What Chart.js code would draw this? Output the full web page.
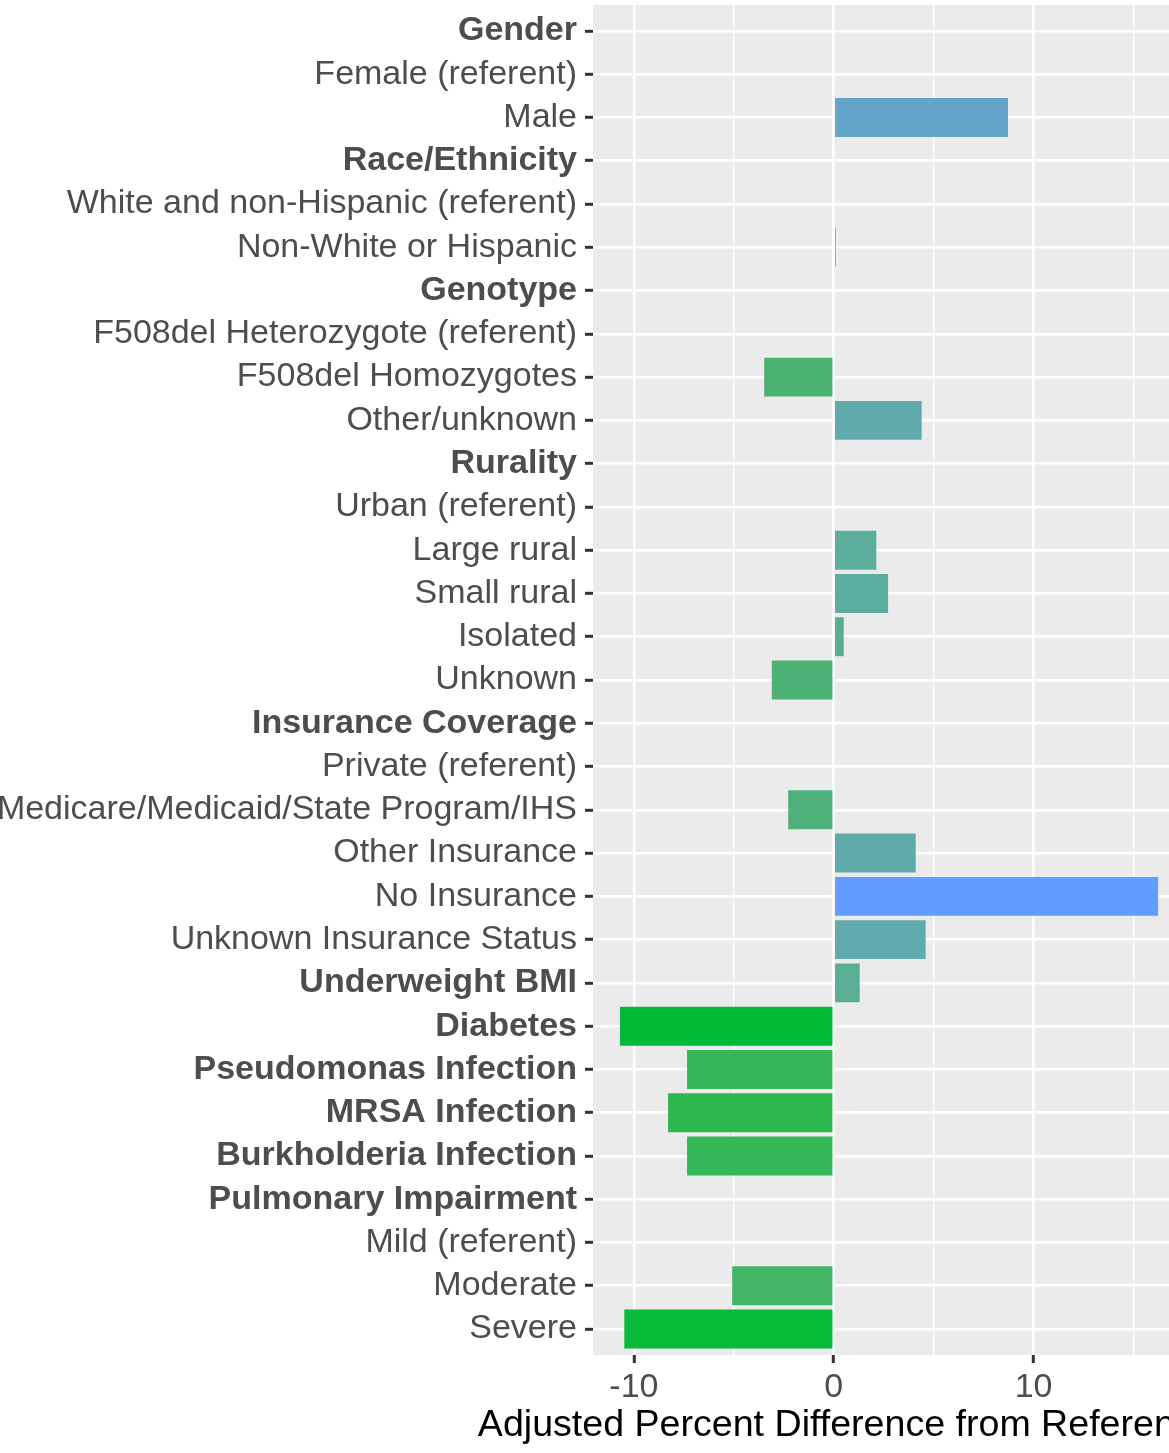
<!DOCTYPE html>
<html>
<head>
<meta charset="utf-8">
<script src="https://cdn.jsdelivr.net/npm/chart.js@4.4.1/dist/chart.umd.min.js"></script>
<style>
  html, body { margin: 0; padding: 0; background: #fff; overflow: hidden; }
  /* the figure is cropped on both sides, so the canvas is wider than the page */
  #wrap { position: absolute; left: -40px; top: 0; width: 1240px; height: 1453px; }
</style>
</head>
<body>
<div id="wrap"><canvas id="chart"></canvas></div>
<script>
// rows, top to bottom
const categories = [
  'Gender', 'Female (referent)', 'Male',
  'Race/Ethnicity', 'White and non-Hispanic (referent)', 'Non-White or Hispanic',
  'Genotype', 'F508del Heterozygote (referent)', 'F508del Homozygotes', 'Other/unknown',
  'Rurality', 'Urban (referent)', 'Large rural', 'Small rural', 'Isolated', 'Unknown',
  'Insurance Coverage', 'Private (referent)', 'Medicare/Medicaid/State Program/IHS',
  'Other Insurance', 'No Insurance', 'Unknown Insurance Status',
  'Underweight BMI', 'Diabetes', 'Pseudomonas Infection', 'MRSA Infection',
  'Burkholderia Infection',
  'Pulmonary Impairment', 'Mild (referent)', 'Moderate', 'Severe'
];
const headerRows = [
  'Gender', 'Race/Ethnicity', 'Genotype', 'Rurality', 'Insurance Coverage',
  'Underweight BMI', 'Diabetes', 'Pseudomonas Infection', 'MRSA Infection',
  'Burkholderia Infection', 'Pulmonary Impairment'
];
// adjusted percent difference, null = no bar
const pctDiff = [
  null, null, 8.72,
  null, null, 0.1,
  null, null, -3.48, 4.4,
  null, null, 2.13, 2.72, 0.5, -3.1,
  null, null, -2.28,
  4.1, 16.23, 4.6,
  1.3, -10.7, -7.34, -8.29,
  -7.34,
  null, null, -5.08, -10.48
];
const xTicks = [-10, -5, 0, 5, 10, 15];
const xTitle = 'Adjusted Percent Difference from Referent Group';

const FONT = '"Liberation Sans", Arial, Helvetica, sans-serif';
const LOW = '#00BA38', HIGH = '#619CFF';

// continuous fill scale, interpolated in Lab like ggplot
function lin(c) { c /= 255; return c <= 0.04045 ? c / 12.92 : Math.pow((c + 0.055) / 1.055, 2.4); }
function unlin(c) {
  c = c <= 0.0031308 ? 12.92 * c : 1.055 * Math.pow(c, 1 / 2.4) - 0.055;
  return Math.round(Math.max(0, Math.min(1, c)) * 255);
}
const WP = [0.95047, 1, 1.08883];
function hexToLab(hex) {
  const r = lin(parseInt(hex.slice(1, 3), 16)), g = lin(parseInt(hex.slice(3, 5), 16)), b = lin(parseInt(hex.slice(5, 7), 16));
  const X = (0.4124564 * r + 0.3575761 * g + 0.1804375 * b) / WP[0];
  const Y = (0.2126729 * r + 0.7151522 * g + 0.0721750 * b) / WP[1];
  const Z = (0.0193339 * r + 0.1191920 * g + 0.9503041 * b) / WP[2];
  const f = t => t > 0.008856 ? Math.cbrt(t) : 7.787 * t + 16 / 116;
  const fx = f(X), fy = f(Y), fz = f(Z);
  return [116 * fy - 16, 500 * (fx - fy), 200 * (fy - fz)];
}
function labToRgb(L, a, b) {
  const fy = (L + 16) / 116, fx = fy + a / 500, fz = fy - b / 200;
  const inv = t => t * t * t > 0.008856 ? t * t * t : (t - 16 / 116) / 7.787;
  const X = WP[0] * inv(fx), Y = WP[1] * inv(fy), Z = WP[2] * inv(fz);
  const r = 3.2404542 * X - 1.5371385 * Y - 0.4985314 * Z;
  const g = -0.9692660 * X + 1.8760108 * Y + 0.0415560 * Z;
  const bl = 0.0556434 * X - 0.2040259 * Y + 1.0572252 * Z;
  return 'rgb(' + unlin(r) + ',' + unlin(g) + ',' + unlin(bl) + ')';
}
const present = pctDiff.filter(v => v !== null);
const vMin = Math.min(...present), vMax = Math.max(...present);
const labLow = hexToLab(LOW), labHigh = hexToLab(HIGH);
function fillFor(v) {
  if (v === null) return 'rgba(0,0,0,0)';
  const t = (v - vMin) / (vMax - vMin);
  return labToRgb(...labLow.map((c, k) => c + t * (labHigh[k] - c)));
}

// ggplot-style grey panel
const panelBg = {
  id: 'panelBg',
  beforeDraw(chart) {
    const { ctx, chartArea: a } = chart;
    ctx.save();
    ctx.fillStyle = '#EBEBEB';
    ctx.fillRect(a.left, a.top, a.right - a.left, a.bottom - a.top);
    ctx.restore();
  }
};

// x axis title, centred under the panel; the built-in one gets squeezed
// to the panel width, ggplot lets it run wider
const xAxisTitle = {
  id: 'xAxisTitle',
  afterDraw(chart) {
    const { ctx, chartArea: a } = chart;
    ctx.save();
    ctx.font = '37.6px ' + FONT;
    ctx.fillStyle = '#000000';
    ctx.textAlign = 'center';
    ctx.textBaseline = 'alphabetic';
    ctx.fillText(xTitle, (a.left + a.right) / 2, a.bottom + 81);
    ctx.restore();
  }
};

// ggplot expands the range by 5% (continuous) and 0.6 rows (discrete)
const span = vMax - vMin;
const xMin = Math.min(0, vMin) - span * 0.05;
const xMax = Math.max(0, vMax) + span * 0.05;

new Chart(document.getElementById('chart'), {
  type: 'bar',
  data: {
    datasets: [{
      data: pctDiff.map((v, i) => ({ x: v, y: i })),
      backgroundColor: pctDiff.map(fillFor),
      borderWidth: 0,
      barPercentage: 0.9,
      categoryPercentage: 1
    }]
  },
  options: {
    indexAxis: 'y',
    responsive: true,
    maintainAspectRatio: false,
    animation: false,
    devicePixelRatio: 1,
    layout: { padding: { left: 0, top: 5, right: 15, bottom: 0 } },
    plugins: { legend: { display: false }, tooltip: { enabled: false } },
    scales: {
      y: {
        type: 'linear',
        reverse: true,
        offset: false,
        min: -0.6,
        max: categories.length - 1 + 0.6,
        afterBuildTicks: axis => { axis.ticks = categories.map((_, i) => ({ value: i })); },
        afterFit: axis => { axis.width = 633; axis.paddingTop = 0; axis.paddingBottom = 0; },
        grid: {
          offset: false,
          color: '#FFFFFF',
          lineWidth: 2.6,
          tickColor: '#333333',
          tickWidth: 3,
          tickLength: 8
        },
        border: { display: false },
        ticks: {
          autoSkip: false,
          padding: 8,
          color: '#4D4D4D',
          font: ctx => ({
            family: FONT,
            size: 34,
            weight: headerRows.includes(categories[ctx.index]) ? 'bold' : 'normal'
          }),
          callback: v => categories[v]
        }
      },
      x: {
        type: 'linear',
        min: xMin,
        max: xMax,
        afterBuildTicks: axis => { axis.ticks = xTicks.map(v => ({ value: v })); },
        afterFit: axis => { axis.height = 98; axis.paddingLeft = 0; axis.paddingRight = 0; },
        grid: {
          color: '#FFFFFF',
          lineWidth: ctx => (ctx.tick && ctx.tick.value % 10 === 0) ? 2.6 : 1.3,
          tickColor: ctx => (ctx.tick && ctx.tick.value % 10 === 0) ? '#333333' : 'rgba(0,0,0,0)',
          tickWidth: 3,
          tickLength: 8
        },
        border: { display: false },
        ticks: {
          autoSkip: false,
          maxRotation: 0,
          padding: 4,
          color: '#4D4D4D',
          font: { family: FONT, size: 34 },
          callback: v => (v % 10 === 0 ? String(v) : '')
        }
      }
    }
  },
  plugins: [panelBg, xAxisTitle]
});
</script>
</body>
</html>
